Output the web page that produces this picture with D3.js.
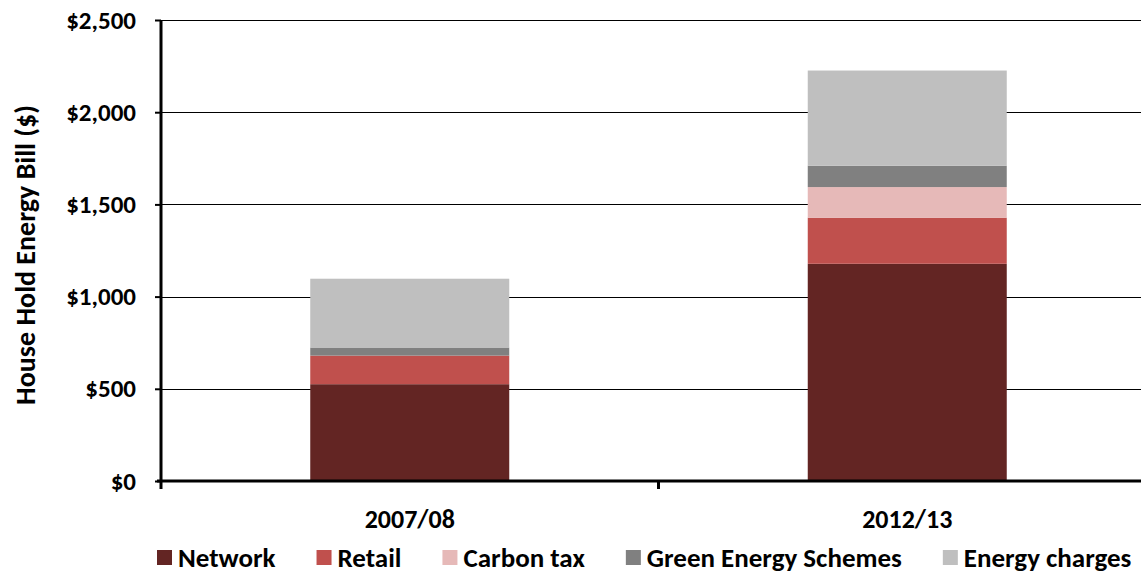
<!DOCTYPE html>
<html>
<head>
<meta charset="utf-8">
<script src="https://cdn.jsdelivr.net/npm/d3@7"></script>
<style>
  body { margin: 0; background: #fff; }
  text { font-family: Carlito, "Open Sans", "Liberation Sans", sans-serif; font-weight: bold; fill: #000; }
</style>
</head>
<body>
<script>
const years = ["2007/08", "2012/13"];
const seriesNames = ["Network", "Retail", "Carbon tax", "Green Energy Schemes", "Energy charges"];
const network = [525, 1178];
const retail = [155, 250];
const carbonTax = [0, 166];
const greenSchemes = [44, 116];
const energyCharges = [373, 516];
const yTicks = [0, 500, 1000, 1500, 2000, 2500];
const colors = ["#632523", "#C0504D", "#E6B9B8", "#808080", "#BFBFBF"];

const W = 1141, H = 574;
const m = { left: 161, right: -15, top: 20, bottom: 93 };

const rows = years.map((y, i) => ({
  year: y,
  "Network": network[i],
  "Retail": retail[i],
  "Carbon tax": carbonTax[i],
  "Green Energy Schemes": greenSchemes[i],
  "Energy charges": energyCharges[i]
}));

const svg = d3.select("body").append("svg")
  .attr("width", W)
  .attr("height", H);

const x = d3.scaleBand()
  .domain(years)
  .range([m.left, W - m.right])
  .paddingInner(0.6)
  .paddingOuter(0.3);

const y = d3.scaleLinear()
  .domain([0, 2500])
  .range([H - m.bottom, m.top]);

// gridlines
svg.append("g")
  .selectAll("line")
  .data(yTicks.slice(1))
  .join("line")
  .attr("x1", m.left)
  .attr("x2", W)
  .attr("y1", d => Math.round(y(d)) + 0.5)
  .attr("y2", d => Math.round(y(d)) + 0.5)
  .attr("stroke", "#000")
  .attr("stroke-width", 1);

const stack = d3.stack().keys(seriesNames);
const layers = stack(rows);

svg.append("g")
  .selectAll("g")
  .data(layers)
  .join("g")
  .attr("fill", (d, i) => colors[i])
  .selectAll("rect")
  .data(d => d)
  .join("rect")
  .attr("x", d => x(d.data.year))
  .attr("width", x.bandwidth())
  .attr("y", d => y(d[1]))
  .attr("height", d => y(d[0]) - y(d[1]));

// y axis
const yAxis = d3.axisLeft(y)
  .tickValues(yTicks)
  .tickSize(6)
  .tickFormat(d => "$" + d3.format(",")(d));

const ya = svg.append("g")
  .attr("transform", `translate(${m.left},0)`)
  .call(yAxis);
ya.select(".domain").attr("stroke-width", 3).attr("d", `M0,${m.top}V${H - m.bottom}`);
ya.selectAll(".tick line").attr("stroke-width", 2);
ya.selectAll(".tick text")
  .attr("x", -25)
  .style("font-size", "25px")
  .style("font-family", "Carlito, 'Open Sans', sans-serif")
  .style("font-weight", "bold");

// x axis
const xa = svg.append("g")
  .attr("transform", `translate(0,${H - m.bottom})`);
xa.append("line")
  .attr("x1", m.left - 4)
  .attr("x2", W)
  .attr("stroke", "#000")
  .attr("stroke-width", 3);
const gap = x(years[1]) - x(years[0]) - x.bandwidth();
xa.selectAll("line.tk")
  .data([x(years[0]) - x.step() * x.paddingOuter(), x(years[0]) + x.bandwidth() + gap / 2])
  .join("line")
  .attr("class", "tk")
  .attr("x1", d => d).attr("x2", d => d)
  .attr("y1", 0).attr("y2", 8)
  .attr("stroke", "#000")
  .attr("stroke-width", 3);
xa.selectAll("text")
  .data(years)
  .join("text")
  .attr("x", d => x(d) + x.bandwidth() / 2)
  .attr("y", 47)
  .attr("text-anchor", "middle")
  .style("font-size", "26px")
  .text(d => d);

// y title
svg.append("text")
  .attr("transform", `translate(35,255) rotate(-90)`)
  .attr("text-anchor", "middle")
  .style("font-size", "28px")
  .text("House Hold Energy Bill ($)");

// legend
const lg = svg.append("g").attr("transform", `translate(157,567)`);
let lx = 0;
seriesNames.forEach((n, i) => {
  const it = lg.append("g").attr("transform", `translate(${lx},0)`);
  it.append("rect")
    .attr("x", 0).attr("y", -17)
    .attr("width", 15).attr("height", 15)
    .attr("fill", colors[i]);
  const t = it.append("text")
    .attr("x", 21)
    .attr("y", 0)
    .style("font-size", "27px")
    .text(n);
  lx += 21 + t.node().getComputedTextLength() + 41;
});
</script>
</body>
</html>
